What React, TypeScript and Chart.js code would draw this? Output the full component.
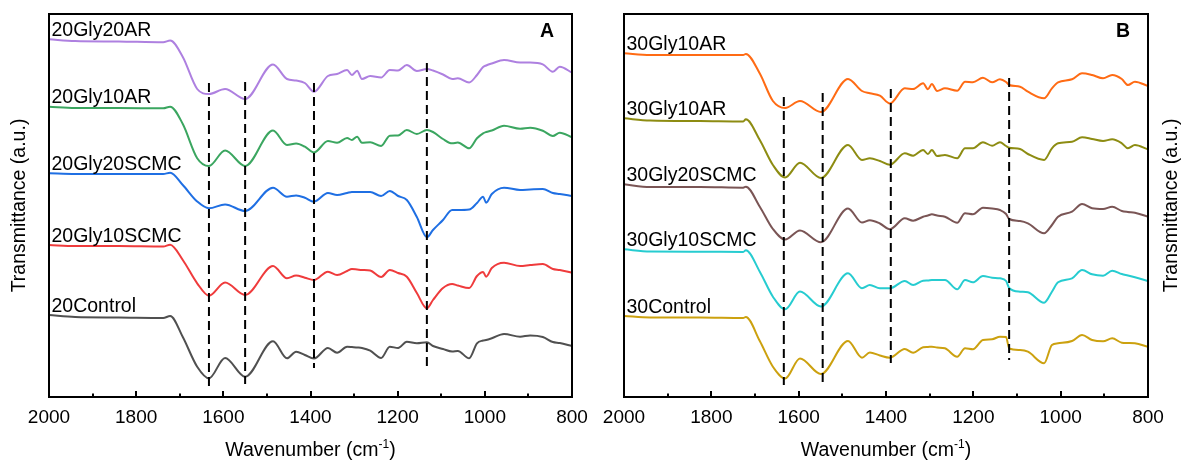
import React, { useEffect, useRef } from "react";
import { Chart, registerables } from "chart.js";

Chart.register(...registerables);

const FONT = '"Liberation Sans", Arial, Helvetica, sans-serif';

// ---------- Panel A ----------
const wavenumbersA = [2000, 1940, 1840, 1738, 1722, 1693, 1660, 1633, 1596, 1550, 1486, 1454, 1433, 1413, 1392, 1360, 1339, 1316, 1305, 1293, 1282, 1263, 1238, 1218, 1199, 1179, 1156, 1133, 1119, 1096, 1075, 1062, 1036, 1018, 1004, 997, 984, 956, 919, 896, 867, 844, 828, 800];
const gly20ar20 = [357.7, 356, 355.5, 354.7, 356.5, 340, 308, 303, 308, 298, 332.5, 318, 316.5, 314, 305.3, 321, 323, 327, 322, 326.3, 318, 321, 319.5, 327, 326.5, 332, 326, 328, 326.5, 322.5, 318, 318.7, 314.5, 322, 330, 331.5, 333.5, 337, 334.5, 334.5, 332.7, 325.3, 330.3, 324.3];
const gly20ar10 = [290.3, 289, 289, 288.7, 290.3, 273, 238.8, 231, 246.5, 231, 266.5, 252, 253.5, 250.3, 244.5, 256, 254.3, 259, 257, 260.3, 254.3, 254.7, 251, 261.3, 261.5, 267, 263, 267, 265, 258, 253.7, 254.5, 248.7, 258.7, 263.7, 265, 266.5, 271.3, 268.3, 269.3, 266.3, 261, 264.3, 259.7];
const gly20scmc20 = [223.7, 223, 223, 223, 224.3, 212, 195.5, 188.7, 192.5, 186, 209.3, 200.3, 201.5, 199.3, 195.3, 204, 202, 204, 205, 205, 205, 205, 201, 206, 201, 197, 180, 159.7, 167, 177, 187, 187, 187.5, 194, 200.3, 194.3, 203, 209.3, 207, 207.5, 208, 204, 203, 201];
const gly20scmc10 = [152, 151, 151, 150.5, 152.3, 137, 113.7, 101.3, 114.5, 102, 131, 118.7, 121.5, 119.3, 117, 125.3, 122, 126, 128, 127.5, 127, 126.5, 120, 127, 124, 120.3, 104, 88.7, 97, 109, 113, 111.5, 109, 121, 125, 120.3, 129, 134.3, 131, 132, 133, 128, 127, 124.3];
const control20 = [82, 80, 79.5, 79, 81, 60, 30.3, 18.7, 39, 20.3, 55.8, 38.7, 45.3, 42, 38.5, 49, 44.3, 50.3, 50, 49.5, 49, 46.3, 39, 50.3, 49, 55.3, 53.7, 54.7, 51, 48, 45.5, 46, 38.7, 53.7, 56.5, 57, 58.7, 63, 60.3, 61.5, 60, 55, 54, 51];
const labelsA = ["20Gly20AR", "20Gly10AR", "20Gly20SCMC", "20Gly10SCMC", "20Control"];
const colorsA = ["#ae80e0", "#3ba660", "#1f6fe3", "#ef3b3c", "#505050"];
const dashWnA = [1633, 1550, 1392, 1133];
const dashTopA = [314, 315, 314, 334];
const dashBottomA = [11, 13, 29, 31];

// ---------- Panel B ----------
const wavenumbersB = [2000, 1940, 1826, 1727, 1721, 1689, 1659, 1631, 1597, 1549, 1487, 1455, 1437, 1414, 1391, 1357, 1338, 1315, 1304, 1295, 1283, 1265, 1237, 1219, 1201, 1178, 1157, 1139, 1125, 1118, 1093, 1075, 1038, 1020, 1006, 974, 951, 928, 903, 882, 860, 846, 830, 800];
const gly30ar10a = [343.7, 342, 342, 342, 343, 323.5, 296, 289, 296, 285, 318, 306, 303.7, 301.3, 293.5, 308.7, 308, 313.7, 307.7, 313, 306, 308.7, 306.3, 315.3, 314.7, 319.3, 314.7, 317.7, 315, 312, 310.3, 305.3, 298.7, 308.7, 314.7, 317.7, 323.7, 322, 318.7, 322, 318, 312, 315.3, 311];
const gly30ar10b = [278.7, 276.5, 276, 275.5, 277.7, 257, 232, 219.5, 234.3, 219, 252, 237, 238.7, 236, 232.3, 243.7, 241.3, 247, 243, 247, 241, 242, 238.7, 248.7, 248.7, 254.7, 251.3, 254.7, 251, 249.3, 248, 243, 237, 248.7, 253.7, 255.3, 259.7, 258, 256, 257.7, 253.7, 248.7, 252, 247.7];
const gly30scmc20 = [212.7, 210, 210, 209.3, 210.3, 190.3, 168, 157.5, 166.5, 154.7, 188.5, 174.5, 176.7, 173.5, 167.8, 178.7, 176.3, 180.3, 181.5, 182.7, 181.5, 180.3, 174.3, 183.7, 182.7, 189.3, 188.5, 187, 183, 178, 176, 173.7, 163.7, 172, 180.3, 185.3, 193, 188.7, 188, 190.3, 186, 185, 184.3, 180.3];
const gly30scmc10 = [147.7, 145.5, 145.3, 145, 146.7, 125.3, 100.3, 87.7, 105.5, 90.5, 123.7, 108.7, 112, 108.7, 108.7, 116, 112, 116.3, 116.5, 117, 117, 117, 107.7, 117, 114.7, 121, 119.3, 118.7, 116, 109, 105.3, 104.7, 94.3, 105.3, 114.7, 118.7, 127, 122.7, 121.3, 126.3, 123, 121.5, 119.7, 116];
const control30 = [81, 79.5, 79.5, 79, 80, 56, 30.3, 18.5, 38.5, 23, 56, 39.3, 44.5, 41.5, 39.3, 48, 44.3, 49.7, 50, 50.3, 49.5, 48.7, 40.3, 48.7, 47.7, 57, 57.7, 60.3, 60, 48.7, 47, 45.3, 33.7, 52, 53.7, 56, 62, 57, 55.7, 58.7, 54.3, 54, 53.7, 50.3];
const labelsB = ["30Gly10AR", "30Gly10AR", "30Gly20SCMC", "30Gly10SCMC", "30Control"];
const colorsB = ["#ff6b14", "#8d8c12", "#7a5555", "#26ccd0", "#cca10f"];
const dashWnB = [1634, 1545, 1389, 1118];
const dashTopB = [300, 304, 308, 319];
const dashBottomB = [12, 15, 34, 37];

const X_MIN = 800;
const X_MAX = 2000;
const Y_MIN = 0;
const Y_MAX = 383;
const X_TITLE = "Wavenumber (cm";
const X_TITLE_SUP = "-1";
const Y_TITLE = "Transmittance (a.u.)";

const CANVAS_W = 591;
const CANVAS_H = 460;

type Panel = {
  wn: number[];
  series: number[][];
  labels: string[];
  colors: string[];
  dashWn: number[];
  dashTop: number[];
  dashBottom: number[];
  letter: string;
  padLeft: number;
  padRight: number;
  yTitleX: number;
};

const decorPlugin = {
  id: "panelDecor",
  afterDraw(chart: any, _args: any, opts: any) {
    const ctx: CanvasRenderingContext2D = chart.ctx;
    const area = chart.chartArea;
    const xs = chart.scales.x;
    const ys = chart.scales.y;
    ctx.save();
    // frame
    ctx.strokeStyle = "#000";
    ctx.lineWidth = 2;
    ctx.strokeRect(area.left, area.top, area.right - area.left, area.bottom - area.top);
    // inward ticks
    ctx.lineWidth = 2;
    for (let v = X_MIN; v <= X_MAX; v += 100) {
      const px = Math.round(xs.getPixelForValue(v));
      const len = v % 200 === 0 ? 6 : 3.5;
      ctx.beginPath();
      ctx.moveTo(px, area.bottom);
      ctx.lineTo(px, area.bottom - len);
      ctx.stroke();
    }
    ctx.fillStyle = "#000";
    // curve labels
    ctx.font = `19.5px ${FONT}`;
    ctx.textAlign = "left";
    ctx.textBaseline = "alphabetic";
    opts.series.forEach((vals: number[], i: number) => {
      const y = ys.getPixelForValue(vals[0]) - 3.5;
      ctx.fillText(opts.labels[i], area.left + 2.5, y);
    });
    // panel letter
    ctx.font = `bold 19.5px ${FONT}`;
    ctx.textAlign = "right";
    ctx.fillText(opts.letter, area.right - 18, area.top + 23);
    // x title
    ctx.font = `19.5px ${FONT}`;
    const w1 = ctx.measureText(X_TITLE).width;
    ctx.font = `12px ${FONT}`;
    const w2 = ctx.measureText(X_TITLE_SUP).width;
    ctx.font = `19.5px ${FONT}`;
    const w3 = ctx.measureText(")").width;
    const cx = (area.left + area.right) / 2;
    const x0 = cx - (w1 + w2 + w3) / 2;
    const base = 456;
    ctx.textAlign = "left";
    ctx.fillText(X_TITLE, x0, base);
    ctx.font = `12px ${FONT}`;
    ctx.fillText(X_TITLE_SUP, x0 + w1, base - 8);
    ctx.font = `19.5px ${FONT}`;
    ctx.fillText(")", x0 + w1 + w2, base);
    // y title
    ctx.translate(opts.yTitleX, (area.top + area.bottom) / 2);
    ctx.rotate(-Math.PI / 2);
    ctx.textAlign = "center";
    ctx.fillText(Y_TITLE, 0, 0);
    ctx.restore();
  },
};

function buildConfig(p: Panel): any {
  const datasets: any[] = [];
  p.dashWn.forEach((w, i) => {
    datasets.push({
      data: [
        { x: w, y: p.dashTop[i] },
        { x: w, y: p.dashBottom[i] },
      ],
      borderColor: "#000",
      borderWidth: 2,
      borderDash: [9, 5],
      pointRadius: 0,
      order: 0,
    });
  });
  p.series.forEach((vals, i) => {
    datasets.push({
      label: p.labels[i],
      data: p.wn.map((w, j) => ({ x: w, y: vals[j] })),
      borderColor: p.colors[i],
      borderWidth: 2,
      pointRadius: 0,
      cubicInterpolationMode: "monotone",
      order: 1,
    });
  });
  return {
    type: "line",
    data: { datasets },
    options: {
      responsive: false,
      animation: false,
      devicePixelRatio: 1,
      layout: { padding: { left: p.padLeft, right: p.padRight, top: 14, bottom: 0 } },
      plugins: {
        legend: { display: false },
        tooltip: { enabled: false },
        panelDecor: {
          series: p.series,
          labels: p.labels,
          letter: p.letter,
          yTitleX: p.yTitleX,
        },
      },
      scales: {
        x: {
          type: "linear",
          min: X_MIN,
          max: X_MAX,
          reverse: true,
          grid: { display: false, drawTicks: false },
          border: { display: false },
          ticks: {
            stepSize: 200,
            autoSkip: false,
            maxRotation: 0,
            padding: 9,
            color: "#000",
            font: { family: FONT, size: 19 },
            callback: (v: any) => String(v),
          },
          afterFit: (s: any) => {
            s.height = 63;
            s.paddingLeft = 0;
            s.paddingRight = 0;
          },
        },
        y: { type: "linear", min: Y_MIN, max: Y_MAX, display: false },
      },
    },
    plugins: [decorPlugin],
  };
}

function PanelChart({ panel, left }: { panel: Panel; left: number }) {
  const ref = useRef<HTMLCanvasElement | null>(null);
  useEffect(() => {
    if (!ref.current) return;
    const chart = new Chart(ref.current, buildConfig(panel));
    return () => chart.destroy();
  }, [panel]);
  return (
    <canvas
      ref={ref}
      width={CANVAS_W}
      height={CANVAS_H}
      style={{ position: "absolute", left, top: 0, width: CANVAS_W, height: CANVAS_H }}
    />
  );
}

const panelA: Panel = {
  wn: wavenumbersA,
  series: [gly20ar20, gly20ar10, gly20scmc20, gly20scmc10, control20],
  labels: labelsA,
  colors: colorsA,
  dashWn: dashWnA,
  dashTop: dashTopA,
  dashBottom: dashBottomA,
  letter: "A",
  padLeft: 49,
  padRight: 19,
  yTitleX: 25,
};

const panelB: Panel = {
  wn: wavenumbersB,
  series: [gly30ar10a, gly30ar10b, gly30scmc20, gly30scmc10, control30],
  labels: labelsB,
  colors: colorsB,
  dashWn: dashWnB,
  dashTop: dashTopB,
  dashBottom: dashBottomB,
  letter: "B",
  padLeft: 33,
  padRight: 34,
  yTitleX: 586,
};

export default function App() {
  return (
    <div style={{ position: "fixed", left: 0, top: 0, width: 1182, height: 460, background: "#fff" }}>
      <PanelChart panel={panelA} left={0} />
      <PanelChart panel={panelB} left={591} />
    </div>
  );
}
